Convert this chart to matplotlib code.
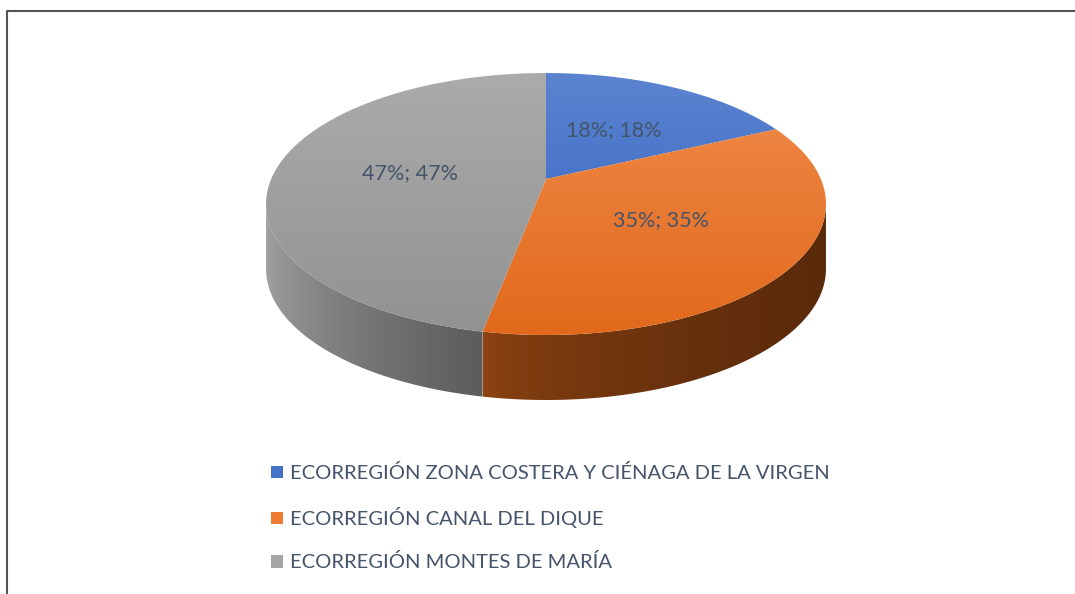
import numpy as np
import matplotlib
matplotlib.use("Agg")
import matplotlib.pyplot as plt
from matplotlib.patches import Polygon, Patch
from matplotlib.colors import to_rgb

# data
labels = [
    "ECORREGIÓN ZONA COSTERA Y CIÉNAGA DE LA VIRGEN",
    "ECORREGIÓN CANAL DEL DIQUE",
    "ECORREGIÓN MONTES DE MARÍA",
]
values = [18, 35, 47]

# colours: (top light, top dark), (side light, side dark), legend swatch
top_colors = [("#5b84d0", "#2f5fbe"), ("#f08c4c", "#e2691b"), ("#ababab", "#929292")]
side_colors = [("#2c4f94", "#1f3c75"), ("#8f4412", "#5a2a0b"), ("#a4a4a4", "#5c5c5c")]
legend_colors = ["#4472c4", "#ed7d31", "#a5a5a5"]
text_color = "#44546a"
font = ["Lato", "DejaVu Sans"]

W, H = 1075, 594
fig = plt.figure(figsize=(W / 100, H / 100), dpi=100)
ax = fig.add_axes([0, 0, 1, 1])

# pie geometry in pixel units: unit disc seen in perspective
# (far side shrunk by factor k), then extruded downward by `depth`
cx, cy, a, b, k, depth = 546, 179, 274.8, 126.2, 0.191, 65


def project(u, v, drop=0.0):
    d = 1 + k * v
    return cx + a * u / d, cy - b * v / d + drop


def rim(th, drop=0.0, r=1.0):
    return project(r * np.cos(th), r * np.sin(th), drop)


def ramp(c0, c1, n=256, gamma=1.0):
    t = np.linspace(0, 1, n) ** gamma
    c0, c1 = np.array(to_rgb(c0)), np.array(to_rgb(c1))
    return c0[None, :] * (1 - t)[:, None] + c1[None, :] * t[:, None]


def gradient_patch(xy, c0, c1, horizontal, gamma=1.0, z=1):
    poly = Polygon(xy, closed=True, facecolor="none", edgecolor="none", zorder=z)
    ax.add_patch(poly)
    x0, y0 = xy.min(axis=0)
    x1, y1 = xy.max(axis=0)
    if horizontal:
        img = ramp(c0, c1, gamma=gamma)[None, :, :]
    else:
        # vertical gradient over the whole top surface
        y0, y1 = rim(np.pi / 2)[1], rim(-np.pi / 2)[1]
        img = ramp(c0, c1, gamma=gamma)[:, None, :]
    im = ax.imshow(img, extent=[x0, x1, y1, y0], aspect="auto",
                   interpolation="bilinear", zorder=z)
    im.set_clip_path(poly)


fractions = np.array(values) / sum(values)
edges = np.deg2rad(90 - 360 * np.concatenate([[0], np.cumsum(fractions)]))

for i in range(len(values)):
    th = np.linspace(edges[i], edges[i + 1], 500)

    # front side wall: the part of the rim between the two silhouette points
    vis = th[np.sin(th) <= -k]
    if len(vis) > 1:
        tx, ty = rim(vis)
        bx, by = rim(vis[::-1], depth)
        side = np.column_stack([np.concatenate([tx, bx]), np.concatenate([ty, by])])
        gradient_patch(side, side_colors[i][0], side_colors[i][1],
                       horizontal=True, gamma=0.6, z=1)

    # top surface
    tx, ty = rim(th)
    top = np.column_stack([np.concatenate([[cx], tx]), np.concatenate([[cy], ty])])
    gradient_patch(top, top_colors[i][0], top_colors[i][1], horizontal=False, z=2)

    # data label, halfway out along the slice bisector
    mid = 0.5 * (edges[i] + edges[i + 1])
    lx, ly = rim(mid, r=0.5)
    pct = f"{values[i]}%"
    ax.text(lx, ly, f"{pct}; {pct}", ha="center", va="center", fontsize=15.5,
            color=text_color, family=font, zorder=5)

# legend
handles = [Patch(facecolor=c, edgecolor="none", label=l)
           for c, l in zip(legend_colors, labels)]
leg = ax.legend(handles=handles, loc="upper left",
                bbox_to_anchor=(271 / W, 1 - 464 / H), frameon=False,
                borderpad=0, borderaxespad=0, handlelength=0.6, handleheight=0.6,
                handletextpad=0.35, labelspacing=1.25,
                prop={"family": font, "size": 14.5})
for t in leg.get_texts():
    t.set_color(text_color)

# chart frame (cropped at right and bottom)
ax.plot([6.5, 6.5, W + 5], [H + 5, 10.5, 10.5], color="#555555", lw=1.5,
        clip_on=False, zorder=6)

ax.set_xlim(0, W)
ax.set_ylim(H, 0)
ax.axis("off")
fig.savefig("out.png", dpi=100, facecolor="white")
